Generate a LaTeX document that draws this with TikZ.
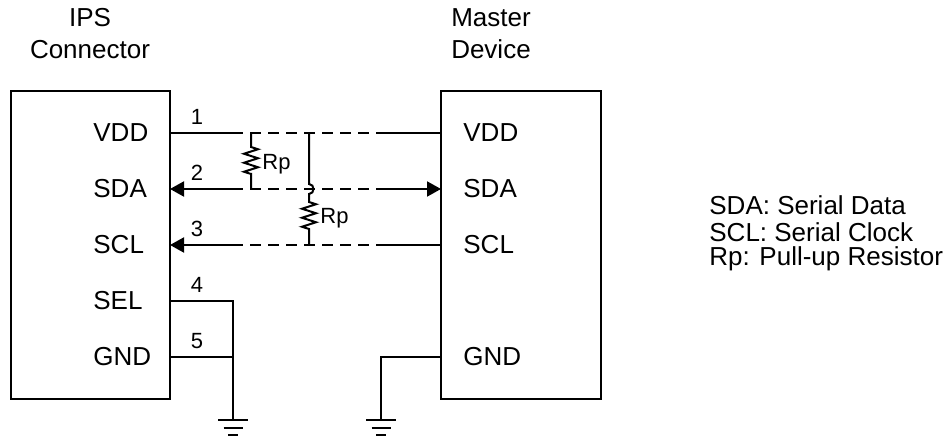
\documentclass[tikz,border=0pt]{standalone}
\usepackage{fontspec}
\setmainfont{Liberation Sans}
\usepackage{tikz}
\usetikzlibrary{arrows.meta, decorations.pathmorphing}

\begin{document}
\begin{tikzpicture}[x=0.5pt, y=-0.5pt,
  wire/.style={line width=1pt},
  busline/.style={line width=1pt, dash pattern=on 5.5pt off 3.5pt},
  tip/.style={-{Triangle[length=7pt, width=7.5pt]}},
  rzig/.style={decoration={zigzag, segment length=4.5pt, amplitude=3.5pt}},
  title/.style={font=\fontsize{13}{16}\selectfont, align=center},
  pinlabel/.style={font=\fontsize{13}{15}\selectfont, anchor=west, inner sep=0pt},
  pinnum/.style={font=\fontsize{11}{13}\selectfont, inner sep=0pt},
  rlabel/.style={font=\fontsize{11}{13}\selectfont, anchor=base west, inner sep=0pt},
  keytext/.style={font=\fontsize{13}{15}\selectfont, anchor=west, inner sep=0pt}]

  \useasboundingbox (0,0) rectangle (950,438);

  % Titles
  \node[title] (ipstitle) at (90,34) {IPS\\Connector};
  \node[title] (mastertitle) at (491,34) {Master\\Device};

  % Boxes
  \draw[wire] (11,91) rectangle (170,399);
  \draw[wire] (441,91) rectangle (601,399);

  % IPS connector pins
  \foreach \name/\row/\num in {VDD/133/1, SDA/189/2, SCL/245/3, SEL/301/4, GND/357/5} {
    \node[pinlabel] (ips\name) at (93,\row) {\name};
    \node[pinnum] (num\num) at (197,\row-16) {\num};
    \coordinate (ips\name pin) at (170,\row);
  }

  % Master device pins
  \foreach \name/\row in {VDD/133, SDA/189, SCL/245, GND/357} {
    \node[pinlabel] (master\name) at (463,\row) {\name};
    \coordinate (master\name pin) at (441,\row);
  }

  % Bus wires
  \coordinate (vddA) at (232,133);
  \coordinate (vddB) at (387,133);
  \coordinate (sdaA) at (232,189);
  \coordinate (sdaB) at (387,189);
  \coordinate (sclA) at (232,245);
  \coordinate (sclB) at (387,245);
  \draw[wire] (ipsVDDpin) -- (vddA);
  \draw[busline] (vddA) -- (vddB);
  \draw[wire] (vddB) -- (masterVDDpin);
  \draw[wire, tip] (sdaA) -- (ipsSDApin);
  \draw[busline] (sdaA) -- (sdaB);
  \draw[wire, tip] (sdaB) -- (masterSDApin);
  \draw[wire, tip] (sclA) -- (ipsSCLpin);
  \draw[busline] (sclA) -- (sclB);
  \draw[wire] (sclB) -- (masterSCLpin);

  % Pull-up resistors
  \draw[wire] (251,133) -- (251,147) decorate[rzig]{-- (251,174)} -- (251,189);
  \node[rlabel] (rp1) at (262,170) {Rp};
  \draw[wire] (309,133) -- (309,184) .. controls (315,184) and (315,194) .. (309,194)
    -- (309,202) decorate[rzig]{-- (309,230)} -- (309,245);
  \node[rlabel] (rp2) at (320,224) {Rp};

  % Ground wiring
  \coordinate (gndL) at (233,420);
  \coordinate (gndR) at (381,420);
  \draw[wire] (ipsSELpin) -- (233,301) -- (gndL);
  \draw[wire] (ipsGNDpin) -- (233,357);
  \draw[wire] (masterGNDpin) -- (381,357) -- (gndR);
  \foreach \g in {gndL, gndR} {
    \draw[wire] ([xshift=-7.5pt]\g) -- ([xshift=7.5pt]\g);
    \draw[wire] ([xshift=-4.75pt, yshift=-4pt]\g) -- ([xshift=4.75pt, yshift=-4pt]\g);
    \draw[wire] ([xshift=-2.5pt, yshift=-7.5pt]\g) -- ([xshift=2.5pt, yshift=-7.5pt]\g);
  }

  % Legend
  \node[keytext] (keysda) at (709,205) {SDA: Serial Data};
  \node[keytext] (keyscl) at (709,232) {SCL: Serial Clock};
  \node[keytext] (keyrp) at (709,259) {Rp: Pull-up Resistor};
\end{tikzpicture}
\end{document}
